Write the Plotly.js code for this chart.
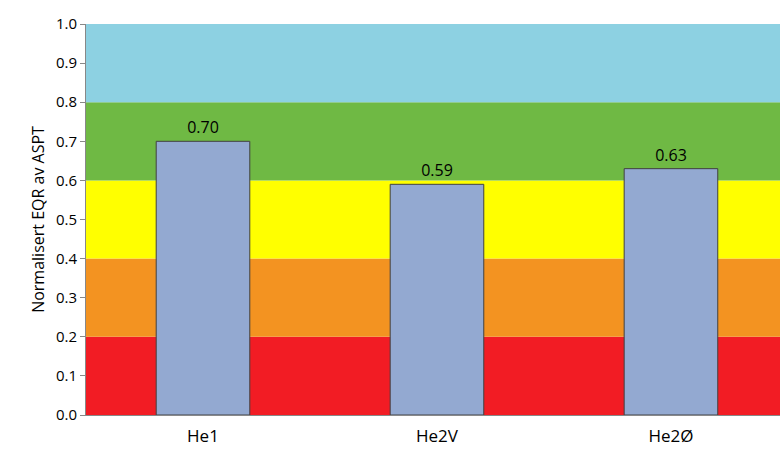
<!DOCTYPE html>
<html><head><meta charset="utf-8">
<script src="https://cdn.plot.ly/plotly-3.0.1.min.js"></script>
<style>body{margin:0}</style></head>
<body><div id="myDiv" style="width:780px;height:452px"></div>
<script>
var categories=["He1","He2V","He2Ø"];
var values=[0.70,0.59,0.63];
var bandLow=[0.0,0.2,0.4,0.6,0.8];
var bandHigh=[0.2,0.4,0.6,0.8,1.0];
var bandColors=["#f21c24","#f39321","#ffff00","#6fb944","#8dd1e2"];

var shapes=[];
for(var i=0;i<bandLow.length;i++){
  shapes.push({type:"rect",xref:"paper",yref:"y",x0:0,x1:1,y0:bandLow[i],y1:bandHigh[i],
    fillcolor:bandColors[i],line:{width:0},layer:"below"});
}

var data=[{
  x:[0,1,2],y:values,type:"bar",width:0.4,
  marker:{color:"#93a9d1",line:{color:"#404040",width:1}},
  text:values.map(function(v){return v.toFixed(2);}),
  textposition:"outside",cliponaxis:false,
  textfont:{family:"Open Sans, Arial",size:16,color:"#000"}
}];

var layout={
  width:780,height:452,
  margin:{l:86,r:0,t:24,b:37},
  paper_bgcolor:"#fff",plot_bgcolor:"rgba(0,0,0,0)",
  font:{family:"Open Sans, Arial",size:14,color:"#000"},
  showlegend:false,
  shapes:shapes,
  xaxis:{range:[-0.5,2.466],tickvals:[0,1,2],ticktext:categories,showgrid:false,
    zeroline:false,showline:true,linecolor:"#888",ticks:"",tickfont:{size:17},ticklabelstandoff:6},
  yaxis:{range:[0,1],dtick:0.1,tickformat:".1f",showgrid:false,zeroline:false,
    showline:true,linecolor:"#888",ticks:"outside",ticklen:5,tickcolor:"#888",
    title:{text:"Normalisert EQR av ASPT",font:{size:16}},tickfont:{size:15}}
};
Plotly.newPlot('myDiv',data,layout,{displayModeBar:false});
</script></body></html>
